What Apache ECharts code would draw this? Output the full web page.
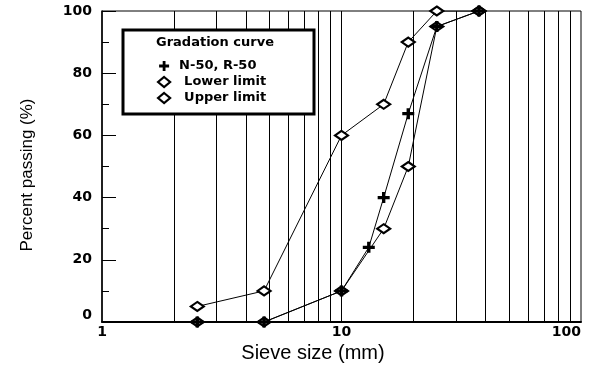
<!DOCTYPE html>
<html>
<head>
<meta charset="utf-8">
<script src="https://cdn.jsdelivr.net/npm/echarts@6/dist/echarts.min.js"></script>
<style>
  html, body { margin: 0; padding: 0; background: #fff; }
  #chart { width: 592px; height: 369px; }
</style>
</head>
<body>
<div id="chart"></div>
<script>
// Sieve openings (mm) and percent passing for the mix and its gradation band
const sieveSizes = [2.5, 4.75, 10, 13, 15, 19, 25, 37.5];
const mixPassing = [0, 0, 10, 24, 40, 67, 95, 100];

const limitSizes = [2.5, 4.75, 10, 15, 19, 25, 37.5];
const lowerLimit = [0, 0, 10, 30, 50, 95, 100];
const upperLimit = [5, 10, 60, 70, 90, 100, 100];

// Vertical log-grid lines (1-2-3...9 per decade)
const gridSizes = [2, 3, 4, 5, 6, 7, 8, 9, 10, 20, 30, 40, 50, 60, 70, 80, 90];

const xTicks = [1, 10, 100];
const yTicks = [0, 20, 40, 60, 80, 100];

const names = ['N-50, R-50', 'Lower limit', 'Upper limit'];

const pairs = (xs, ys) => xs.map((x, i) => [x, ys[i]]);

const plusPath = 'path://M3.6,0H6.4V3.6H10V6.4H6.4V10H3.6V6.4H0V3.6H3.6Z';

const chart = echarts.init(document.getElementById('chart'), null, { renderer: 'canvas' });

const labelFont = { fontFamily: 'DejaVu Sans', fontWeight: 'bold', fontSize: 14, color: '#000' };
const diamondStyle = { color: '#fff', borderColor: '#000', borderWidth: 2.2 };

chart.setOption({
  animation: false,
  backgroundColor: '#fff',
  grid: {
    left: 102, right: 11, top: 11, bottom: 47,
    show: true, borderColor: '#000', borderWidth: 1, backgroundColor: 'transparent'
  },
  xAxis: {
    type: 'log', logBase: 10,
    min: xTicks[0], max: xTicks[xTicks.length - 1],
    axisLine: { show: true, lineStyle: { color: '#000', width: 2 } },
    axisTick: { show: false },
    splitLine: { show: false },
    axisLabel: Object.assign({ margin: 3, alignMaxLabel: 'right' }, labelFont)
  },
  yAxis: {
    type: 'value', min: yTicks[0], max: yTicks[yTicks.length - 1], interval: 20,
    axisLine: { show: true, lineStyle: { color: '#000', width: 1.5 } },
    axisTick: { show: true, inside: true, length: 14, lineStyle: { color: '#000', width: 1 } },
    minorTick: { show: true, splitNumber: 2, length: 7, lineStyle: { color: '#000', width: 1 } },
    splitLine: { show: false },
    axisLabel: Object.assign({ margin: 10, verticalAlignMinLabel: 'bottom' }, labelFont)
  },
  legend: {
    orient: 'vertical',
    left: 157, top: 58, padding: 0,
    itemWidth: 12, itemHeight: 10, itemGap: 0,
    z: 60,
    textStyle: { fontFamily: 'DejaVu Sans', fontWeight: 'bold', fontSize: 13, color: '#000', lineHeight: 16 },
    data: [
      { name: names[0], icon: plusPath, itemStyle: { color: '#000', borderWidth: 0 }, textStyle: { padding: [0, 0, 0, 4] } },
      { name: names[1], icon: 'diamond', itemStyle: diamondStyle, textStyle: { padding: [0, 0, 0, 9] } },
      { name: names[2], icon: 'diamond', itemStyle: diamondStyle, textStyle: { padding: [0, 0, 0, 9] } }
    ]
  },
  graphic: [
    {
      type: 'rect', z: 50,
      shape: { x: 123, y: 30, width: 191, height: 84 },
      style: { fill: '#fff', stroke: '#000', lineWidth: 3 }
    },
    {
      type: 'text', z: 51, x: 215, y: 43,
      style: {
        text: 'Gradation curve', fill: '#000', align: 'center', verticalAlign: 'middle',
        font: 'bold 13px "DejaVu Sans"'
      }
    },
    {
      type: 'text', z: 51, x: 313, y: 353,
      style: {
        text: 'Sieve size (mm)', fill: '#000', align: 'center', verticalAlign: 'middle',
        font: '20px "Liberation Sans"'
      }
    },
    {
      type: 'text', z: 51, x: 27, y: 175, rotation: Math.PI / 2,
      style: {
        text: 'Percent passing (%)', fill: '#000', align: 'center', verticalAlign: 'middle',
        font: '17px "Liberation Sans"'
      }
    }
  ],
  series: [
    {
      name: 'grid',
      type: 'line',
      data: [],
      silent: true,
      markLine: {
        z: 1,
        silent: true,
        symbol: ['none', 'none'],
        label: { show: false },
        lineStyle: { color: '#000', width: 1, type: 'solid' },
        emphasis: { disabled: true },
        data: gridSizes.map(v => ({ xAxis: v }))
      }
    },
    {
      name: names[2],
      type: 'line',
      z: 3,
      data: pairs(limitSizes, upperLimit),
      symbol: 'diamond', symbolSize: [13, 9],
      lineStyle: { color: '#000', width: 1 },
      itemStyle: diamondStyle
    },
    {
      name: names[1],
      type: 'line',
      z: 4,
      data: pairs(limitSizes, lowerLimit),
      symbol: 'diamond', symbolSize: [13, 9],
      lineStyle: { color: '#000', width: 1 },
      itemStyle: diamondStyle
    },
    {
      name: names[0],
      type: 'line',
      z: 5,
      data: pairs(sieveSizes, mixPassing),
      symbol: plusPath, symbolSize: [12, 11],
      lineStyle: { color: '#000', width: 1 },
      itemStyle: { color: '#000', borderWidth: 0 }
    }
  ]
});
</script>
</body>
</html>
